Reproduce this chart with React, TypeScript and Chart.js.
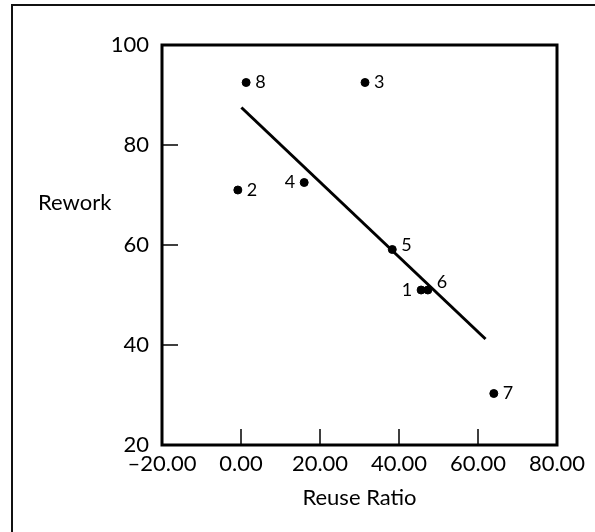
import React, { useEffect, useRef } from "react";
import { Chart, registerables } from "chart.js";

Chart.register(...registerables);

// ---- data ----
const pointLabels = ["1", "2", "3", "4", "5", "6", "7", "8"];
const reuseRatio = [45.6, -0.8, 31.4, 16.0, 38.3, 47.3, 64.0, 1.3];
const rework = [51.0, 71.0, 92.5, 72.5, 59.1, 51.0, 30.3, 92.5];
const fitX = [0.1, 61.9];
const fitY = [87.5, 41.2];
const xTicks = [-20, 0, 20, 40, 60, 80];
const yTicks = [20, 40, 60, 80, 100];
const xTitle = "Reuse Ratio";
const yTitle = "Rework";

// ---- styles (not data) ----
const FONT = "Lato, 'Open Sans', sans-serif";
const labelSide = ["left", "right", "right", "left", "right", "right", "right", "right"];
const labelDy = [0, 0, 0, 0, -4, -8, 0, 0];

const App: React.FC = () => {
  const ref = useRef<HTMLCanvasElement | null>(null);

  useEffect(() => {
    if (!ref.current) return;

    const decor = {
      id: "decor",
      afterDraw(chart: any) {
        const ctx = chart.ctx;
        const a = chart.chartArea;
        const xs = chart.scales.x;
        const ys = chart.scales.y;
        ctx.save();
        // outer frame (top & left visible)
        ctx.strokeStyle = "#111";
        ctx.lineWidth = 2;
        ctx.beginPath();
        ctx.moveTo(12, 600);
        ctx.lineTo(12, 5);
        ctx.lineTo(700, 5);
        ctx.stroke();
        // plot frame
        ctx.lineWidth = 3;
        ctx.strokeStyle = "#000";
        ctx.strokeRect(a.left, a.top, a.right - a.left, a.bottom - a.top);
        // inward ticks
        ctx.lineWidth = 1.5;
        ctx.beginPath();
        xTicks.forEach((v) => {
          if (v === xs.min || v === xs.max) return;
          const px = xs.getPixelForValue(v);
          ctx.moveTo(px, a.bottom);
          ctx.lineTo(px, a.bottom - 16);
        });
        yTicks.forEach((v) => {
          if (v === ys.min || v === ys.max) return;
          const py = ys.getPixelForValue(v);
          ctx.moveTo(a.left, py);
          ctx.lineTo(a.left + 16, py);
        });
        ctx.stroke();
        // point labels
        const meta = chart.getDatasetMeta(0);
        ctx.fillStyle = "#000";
        ctx.font = `18px ${FONT}`;
        ctx.textBaseline = "middle";
        meta.data.forEach((el: any, i: number) => {
          const side = labelSide[i];
          ctx.textAlign = side === "left" ? "right" : "left";
          const dx = side === "left" ? -9 : 9;
          ctx.fillText(pointLabels[i], el.x + dx, el.y + labelDy[i]);
        });
        // y title (horizontal)
        ctx.font = `22px ${FONT}`;
        ctx.textAlign = "left";
        ctx.fillText(yTitle, 38, 203);
        ctx.restore();
      },
    };

    const chart = new Chart(ref.current, {
      type: "scatter",
      data: {
        datasets: [
          {
            data: reuseRatio.map((x, i) => ({ x, y: rework[i] })),
            backgroundColor: "#000",
            borderColor: "#000",
            pointRadius: 4,
            pointHoverRadius: 4,
          },
          {
            data: fitX.map((x, i) => ({ x, y: fitY[i] })),
            showLine: true,
            borderColor: "#000",
            borderWidth: 3,
            pointRadius: 0,
            fill: false,
          } as any,
        ],
      },
      plugins: [decor],
      options: {
        animation: false,
        responsive: false,
        layout: { padding: { left: 0, top: 45, right: 38, bottom: 0 } },
        plugins: {
          legend: { display: false },
          tooltip: { enabled: false },
        },
        scales: {
          x: {
            type: "linear",
            min: -20,
            max: 80,
            afterFit: (s: any) => {
              s.height = 87;
            },
            afterBuildTicks: (s: any) => {
              s.ticks = xTicks.map((v) => ({ value: v }));
            },
            grid: { display: false, drawTicks: false },
            border: { display: false },
            ticks: {
              padding: 6,
              color: "#000",
              maxRotation: 0,
              autoSkip: false,
              font: { family: FONT, size: 22 },
              callback: (v: any) => {
                const n = Number(v);
                return n < 0 ? "\u2013" + Math.abs(n).toFixed(2) : n.toFixed(2);
              },
            },
            title: {
              display: true,
              text: xTitle,
              color: "#000",
              font: { family: FONT, size: 22 },
              padding: { top: 0, bottom: 21 },
            },
          },
          y: {
            type: "linear",
            min: 20,
            max: 100,
            afterFit: (s: any) => {
              s.width = 162;
            },
            afterBuildTicks: (s: any) => {
              s.ticks = yTicks.map((v) => ({ value: v }));
            },
            grid: { display: false, drawTicks: false },
            border: { display: false },
            ticks: {
              padding: 13,
              color: "#000",
              font: { family: FONT, size: 22 },
            },
          },
        },
      },
    });

    return () => chart.destroy();
  }, []);

  return (
    <div style={{ position: "absolute", left: 0, top: 0, width: 595, height: 532, background: "#fff" }}>
      <canvas ref={ref} width={595} height={532} style={{ display: "block" }} />
    </div>
  );
};

export default App;
